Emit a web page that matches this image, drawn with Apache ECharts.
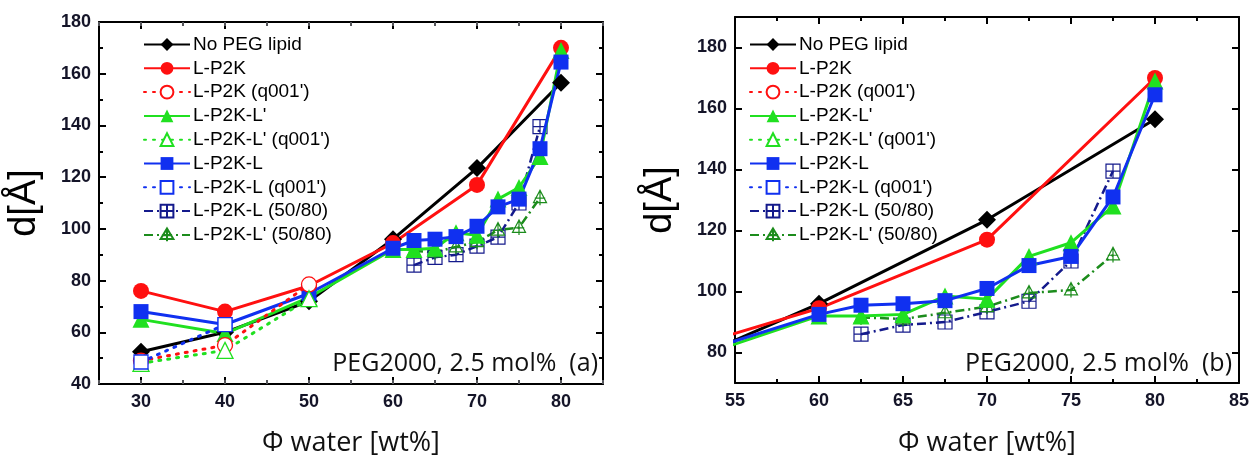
<!DOCTYPE html>
<html><head><meta charset="utf-8">
<script src="https://cdn.jsdelivr.net/npm/echarts@6/dist/echarts.min.js"></script>
<style>html,body{margin:0;padding:0;background:#fff}#c{width:1253px;height:462px}</style>
</head><body><div id="c"></div>
<script>
// ---- data ----
const seriesNames = ["No PEG lipid","L-P2K","L-P2K (q001')","L-P2K-L'","L-P2K-L' (q001')","L-P2K-L","L-P2K-L (q001')","L-P2K-L (50/80)","L-P2K-L' (50/80)"];
const noPegX = [30,40,50,60,70,80];
const noPegY = [52.5,60,72,96,123.5,156.5];
const lp2kX = [30,40,50,60,70,80];
const lp2kY = [76,68,78,94.5,117,170];
const lp2kQX = [30,40,50];
const lp2kQY = [49,55,78.5];
const lp2klpX = [30,40,50,60,62.5,65,67.5,70,72.5,75,77.5,80];
const lp2klpY = [65,59.5,73.5,92,92,92.5,98.5,97.5,111.5,116,128,169];
const lp2klpQX = [30,40,50];
const lp2klpQY = [48,53,73];
const lp2klX = [30,40,50,60,62.5,65,67.5,70,72.5,75,77.5,80];
const lp2klY = [68,63,75,92.5,95.5,96,97,101,108.5,111.5,131,164.5];
const lp2klQX = [30,40];
const lp2klQY = [48.5,63];
const lp2kl5080X = [62.5,65,67.5,70,72.5,75,77.5];
const lp2kl5080Y = [86,89,90,93.3,96.8,110,139.5];
const lp2klp5080X = [62.5,65,67.5,70,72.5,75,77.5];
const lp2klp5080Y = [91.5,91,93,95,99.5,100.5,112];
const xTicksA = [30,40,50,60,70,80];
const yTicksA = [40,60,80,100,120,140,160,180];
const xTicksB = [55,60,65,70,75,80,85];
const yTicksB = [80,100,120,140,160,180];

const pairs = (xs, ys) => xs.map((x, i) => [x, ys[i]]);
const C = {black:'#000000', red:'#ff1010', green:'#20e020', blue:'#1030f0', navy:'#141a8c', dgreen:'#1c8c1c'};
const boxPlus = 'path://M0,0H20V20H0Z M10,0V20 M0,10H20';
const triPlus = 'path://M10,0L20,19H0Z M10,0V23 M2,12H18';

function mkSeries(xi, yi) {
  const solid = (name, d, color, symbol, size) => ({
    name, type:'line', xAxisIndex:xi, yAxisIndex:yi, data:d, symbol, symbolSize:size,
    itemStyle:{color}, lineStyle:{color, width:3, type:'solid'}, z:3
  });
  const dotted = (name, d, color, symbol, size) => ({
    name, type:'line', xAxisIndex:xi, yAxisIndex:yi, data:d, symbol, symbolSize:size,
    itemStyle:{color:'#fff', borderColor:color, borderWidth:1.3},
    lineStyle:{color, width:3, type:[2,7], cap:'round'}, z:4
  });
  const dashdot = (name, d, color, symbol, size) => ({
    name, type:'line', xAxisIndex:xi, yAxisIndex:yi, data:d, symbol, symbolSize:size,
    symbolKeepAspect:true,
    itemStyle:{color:'rgba(255,255,255,0)', borderColor:color, borderWidth:1.2},
    lineStyle:{color, width:2.5, type:[9,4,2,4]}, z:2
  });
  return [
    solid(seriesNames[0], pairs(noPegX,noPegY), C.black, 'diamond', 18),
    solid(seriesNames[1], pairs(lp2kX,lp2kY), C.red, 'circle', 16),
    dotted(seriesNames[2], pairs(lp2kQX,lp2kQY), C.red, 'circle', 15),
    solid(seriesNames[3], pairs(lp2klpX,lp2klpY), C.green, 'triangle', 17),
    dotted(seriesNames[4], pairs(lp2klpQX,lp2klpQY), C.green, 'triangle', 16),
    solid(seriesNames[5], pairs(lp2klX,lp2klY), C.blue, 'rect', 15),
    dotted(seriesNames[6], pairs(lp2klQX,lp2klQY), C.blue, 'rect', 14),
    dashdot(seriesNames[7], pairs(lp2kl5080X,lp2kl5080Y), C.navy, boxPlus, 14),
    dashdot(seriesNames[8], pairs(lp2klp5080X,lp2klp5080Y), C.dgreen, triPlus, 15)
  ];
}

const labelStyle = {fontFamily:'Liberation Sans, Arial', fontWeight:'bold', fontSize:18, color:'#141428'};
const line = {show:true, onZero:false, lineStyle:{color:'#000', width:2}};
const noLabel = {show:false};
const xName = {fontFamily:'Open Sans', fontSize:27, color:'#111'};
const yName = {fontFamily:'Liberation Sans, Arial', fontSize:38, color:'#000'};

const xAxis = [
  // 0: panel a bottom main
  {gridIndex:0, type:'value', min:25, max:85, interval:5, position:'bottom',
   axisLine:line, splitLine:{show:false},
   axisTick:{inside:true, length:7, lineStyle:{width:2}, customValues:xTicksA},
   axisLabel:Object.assign({margin:9, customValues:xTicksA}, labelStyle),
   name:'Φ water [wt%]', nameLocation:'middle', nameGap:46, nameTextStyle:xName},
  // 1: panel a bottom minor
  {gridIndex:0, type:'value', min:25, max:85, interval:5, position:'bottom',
   axisLine:{show:false}, splitLine:{show:false}, axisLabel:noLabel,
   axisTick:{inside:true, length:4, lineStyle:{width:2}}},
  // 2: panel a top main
  {gridIndex:0, type:'value', min:25, max:85, interval:5, position:'top',
   axisLine:line, splitLine:{show:false}, axisLabel:noLabel,
   axisTick:{inside:true, length:7, lineStyle:{width:2}, customValues:xTicksA}},
  // 3: panel a top minor
  {gridIndex:0, type:'value', min:25, max:85, interval:5, position:'top',
   axisLine:{show:false}, splitLine:{show:false}, axisLabel:noLabel,
   axisTick:{inside:true, length:4, lineStyle:{width:2}}},
  // 4: panel b bottom
  {gridIndex:1, type:'value', min:55, max:85, interval:5, position:'bottom',
   axisLine:line, splitLine:{show:false},
   axisTick:{inside:true, length:7, lineStyle:{width:2}},
   minorTick:{show:true, splitNumber:2, length:4, lineStyle:{width:2, color:'#000'}},
   axisLabel:Object.assign({margin:9}, labelStyle),
   name:'Φ water [wt%]', nameLocation:'middle', nameGap:47, nameTextStyle:xName},
  // 5: panel b top
  {gridIndex:1, type:'value', min:55, max:85, interval:5, position:'top',
   axisLine:line, splitLine:{show:false}, axisLabel:noLabel,
   axisTick:{inside:true, length:7, lineStyle:{width:2}},
   minorTick:{show:true, splitNumber:2, length:4, lineStyle:{width:2, color:'#000'}}}
];

const yAxis = [
  {gridIndex:0, type:'value', min:40, max:180, interval:20, position:'left',
   axisLine:line, splitLine:{show:false},
   axisTick:{inside:true, length:7, lineStyle:{width:2}},
   minorTick:{show:true, splitNumber:2, length:4, lineStyle:{width:2, color:'#000'}},
   axisLabel:Object.assign({margin:8}, labelStyle),
   name:'d[Å]', nameLocation:'middle', nameGap:55, nameTextStyle:yName},
  {gridIndex:0, type:'value', min:40, max:180, interval:20, position:'right',
   axisLine:line, splitLine:{show:false}, axisLabel:noLabel,
   axisTick:{inside:true, length:7, lineStyle:{width:2}},
   minorTick:{show:true, splitNumber:2, length:4, lineStyle:{width:2, color:'#000'}}},
  {gridIndex:1, type:'value', min:70, max:190, interval:10, position:'left',
   axisLine:line, splitLine:{show:false},
   axisTick:{inside:true, length:7, lineStyle:{width:2}, customValues:yTicksB},
   minorTick:{show:false},
   axisLabel:Object.assign({margin:8, customValues:yTicksB}, labelStyle),
   name:'d[Å]', nameLocation:'middle', nameGap:55, nameTextStyle:yName},
  {gridIndex:1, type:'value', min:70, max:190, interval:10, position:'right',
   axisLine:line, splitLine:{show:false}, axisLabel:noLabel,
   axisTick:{inside:true, length:7, lineStyle:{width:2}, customValues:yTicksB}}
];

const legendBase = {orient:'vertical', itemWidth:46, itemHeight:16, itemGap:4.8,
  textStyle:{fontFamily:'Liberation Sans, Arial', fontSize:19, color:'#000', padding:[0,0,0,-2]},
  data:seriesNames, selectedMode:false};

const option = {
  animation:false,
  backgroundColor:'#fff',
  grid:[
    {left:99, right:650, top:22, bottom:69, containLabel:false},
    {left:735, right:14, top:17, bottom:70, containLabel:false}
  ],
  xAxis, yAxis,
  legend:[
    Object.assign({left:138, top:30}, legendBase),
    Object.assign({left:744, top:30}, legendBase)
  ],
  graphic:[
    {type:'text', right:1253-598, top:351, style:{text:'PEG2000, 2.5 mol%  (a)', font:'25px "Open Sans"', fill:'#111'}},
    {type:'text', right:1253-1232, top:351, style:{text:'PEG2000, 2.5 mol%  (b)', font:'25px "Open Sans"', fill:'#111'}}
  ],
  series:[].concat(mkSeries(0,0), mkSeries(4,2))
};
const chart = echarts.init(document.getElementById('c'), null, {renderer:'canvas'});
chart.setOption(option);
</script></body></html>
